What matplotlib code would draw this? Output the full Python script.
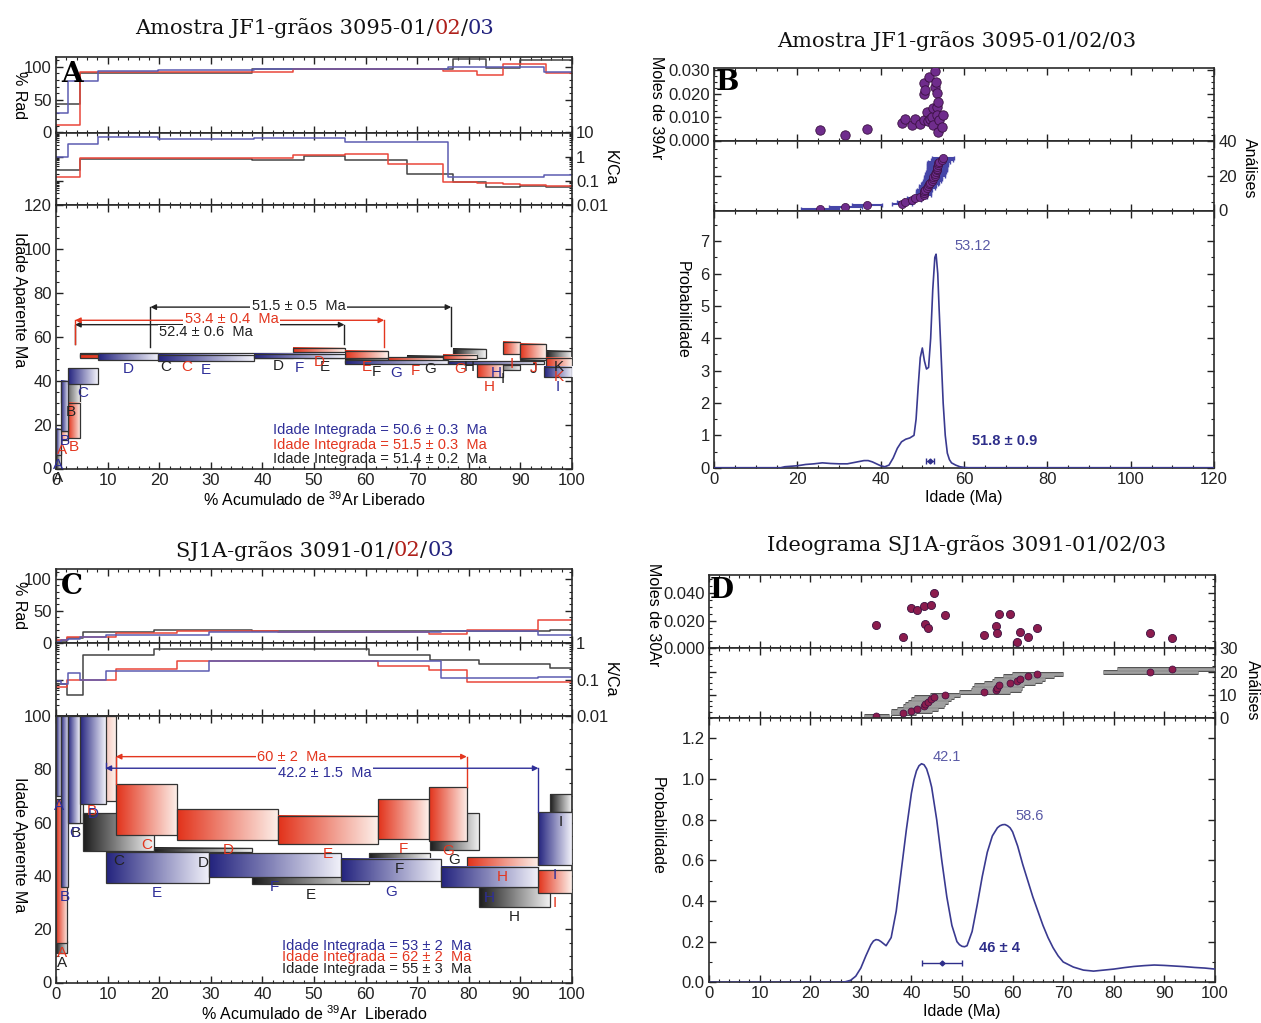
import numpy as np
import matplotlib
matplotlib.use("Agg")
import matplotlib.pyplot as plt
from matplotlib.colors import LinearSegmentedColormap
from matplotlib.patches import Rectangle
from matplotlib.ticker import (MultipleLocator, FixedLocator, FixedFormatter,
                               NullFormatter, LogLocator)

plt.rcParams['font.family'] = ['Liberation Sans', 'DejaVu Sans']
plt.rcParams['mathtext.fontset'] = 'custom'
plt.rcParams['mathtext.rm'] = 'Liberation Sans'
plt.rcParams['axes.linewidth'] = 1.2
plt.rcParams['axes.edgecolor'] = '#2a2a2a'

# ---------------------------------------------------------------------------
# JF1 step heating (grains 01 = blue, 02 = red, 03 = black)
# cumulative % 39Ar boundaries, apparent age (Ma), box half height,
# % radiogenic and K/Ca for every step
# ---------------------------------------------------------------------------
jf1_cum_blue = [0, 0.9, 2.4, 8.1, 19.8, 38.4, 56.0, 76.0, 94.5, 100]
jf1_age_blue = [12, 28.5, 42.2, 51.0, 50.5, 51.2, 48.5, 48.3, 43.8]
jf1_err_blue = [6, 11.5, 3.5, 1.5, 1.4, 1.0, 0.8, 0.6, 2.3]
jf1_rad_blue = [29, 29, 79, 93, 95, 97, 96, 100, 92]
jf1_kca_blue = [0.94, 0.94, 3.2, 6.5, 5.3, 5.9, 3.9, 0.14, 0.17]

jf1_cum_red = [0, 2.3, 4.7, 46.0, 56.0, 64.3, 75.0, 81.5, 86.6, 90.0, 95.0, 100]
jf1_age_red = [15, 22, 51.3, 53.9, 52.0, 49.8, 50.8, 44.5, 54.8, 53.3, 48.3]
jf1_err_red = [2, 8, 0.9, 1.0, 1.6, 0.8, 1.0, 3.0, 2.8, 3.2, 2.2]
jf1_rad_red = [12, 12, 92, 97, 97, 96, 93, 88, 104, 104, 91]
jf1_kca_red = [0.15, 0.15, 0.85, 1.2, 1.25, 0.5, 0.09, 0.08, 0.075, 0.07, 0.06]

jf1_cum_black = [0, 0.9, 4.7, 38.0, 48.0, 56.0, 68.0, 77.0, 83.3, 90.0, 95.0, 100]
jf1_age_black = [4, 34.5, 51.6, 51.8, 51.4, 48.9, 50.4, 52.5, 46.0, 50.5, 52.0]
jf1_err_black = [4, 4.5, 0.8, 0.8, 0.9, 0.7, 0.7, 2.1, 1.0, 1.0, 1.6]
jf1_rad_black = [44, 44, 90, 96, 97, 97, 97, 112, 99, 111, 111]
jf1_kca_black = [0.27, 0.27, 0.8, 0.7, 1.1, 0.7, 0.2, 0.09, 0.054, 0.06, 0.055]

jf1_integrated = ["Idade Integrada = 50.6 ± 0.3  Ma",
                  "Idade Integrada = 51.5 ± 0.3  Ma",
                  "Idade Integrada = 51.4 ± 0.2  Ma"]

# ---------------------------------------------------------------------------
# SJ1A step heating
# ---------------------------------------------------------------------------
sj_cum_blue = [0, 1.0, 2.4, 4.7, 9.6, 29.6, 55.2, 74.6, 93.5, 100]
sj_age_blue = [85, 68, 80, 83.5, 43.2, 44.1, 42.1, 39.5, 54.0]
sj_err_blue = [15, 32, 20, 16.5, 5.8, 4.4, 4.2, 3.8, 9.8]
sj_rad_blue = [2, 4, 6, 9, 12, 17, 17, 19, 12]
sj_kca_blue = [0.089, 0.077, 0.15, 0.1, 0.17, 0.32, 0.32, 0.11, 0.12]

sj_cum_red = [0, 2.2, 11.6, 23.5, 43.1, 62.4, 72.2, 79.6, 93.5, 100]
sj_age_red = [42, 84, 64.9, 59.3, 57.2, 61.25, 63.2, 45.25, 38.0]
sj_err_red = [27, 16, 9.5, 5.8, 5.3, 7.5, 10.0, 1.75, 4.25]
sj_rad_red = [4, 9, 16, 18, 17, 17, 14, 20, 36]
sj_kca_red = [0.063, 0.1, 0.19, 0.32, 0.32, 0.23, 0.18, 0.083, 0.083]

sj_cum_black = [0, 2.2, 5.3, 19.0, 38.0, 60.6, 72.4, 82.0, 95.8, 100]
sj_age_black = [13.2, 80, 56.5, 49.6, 38.4, 47.4, 56.6, 32.1, 67.4]
sj_err_black = [2.2, 20, 7.0, 0.8, 1.6, 1.1, 6.9, 3.6, 3.3]
sj_rad_black = [3, 7, 17, 20, 18, 18, 18, 19, 20]
sj_kca_black = [0.077, 0.038, 0.47, 0.67, 0.67, 0.47, 0.35, 0.26, 0.21]

sj_integrated = ["Idade Integrada = 53 ± 2  Ma",
                 "Idade Integrada = 62 ± 2  Ma",
                 "Idade Integrada = 55 ± 3  Ma"]

# ---------------------------------------------------------------------------
# JF1 single-grain ages (Ma), 39Ar moles and errors ; ideogram
# ---------------------------------------------------------------------------
jf1_grain_age = [25.4, 31.5, 36.7, 45.1, 45.9, 47.6, 48.2, 49.4, 50.3, 50.3,
                 50.3, 50.6, 51.1, 51.3, 51.7, 51.9, 52.3, 52.5, 52.5, 53.0,
                 53.0, 53.2, 53.5, 53.5, 53.5, 53.7, 53.7, 54.0, 54.7, 54.9]
jf1_grain_moles = [0.0043, 0.0022, 0.0048, 0.0075, 0.0090, 0.0065, 0.0090,
                   0.0072, 0.0087, 0.0200, 0.0245, 0.0215, 0.0120, 0.0082,
                   0.0270, 0.0094, 0.0100, 0.0065, 0.0137, 0.0296, 0.0227,
                   0.0250, 0.0205, 0.0145, 0.0110, 0.0166, 0.0036, 0.0087,
                   0.0058, 0.0110]
jf1_grain_err = [4.5, 4.0, 3.5, 2.5, 2.0, 2.0, 2.0, 1.8, 1.8, 1.8,
                 1.8, 1.8, 2.0, 2.0, 2.0, 2.0, 2.2, 2.2, 2.2, 2.4,
                 2.4, 2.4, 2.5, 2.5, 2.5, 2.5, 2.5, 2.6, 2.6, 2.6]
jf1_prob_age = [0, 10, 16, 17, 20, 22, 24, 26, 28, 30, 32, 34, 36, 37, 38, 40,
                41, 42, 43, 44, 45, 46, 47, 48, 48.5, 49, 49.5, 50, 50.5, 51,
                51.5, 52, 52.5, 53, 53.3, 53.7, 54, 54.5, 55, 55.5, 56, 56.5,
                57, 58, 59, 60, 61, 80, 120]
jf1_prob = [0, 0, 0, 0.03, 0.06, 0.10, 0.12, 0.15, 0.13, 0.12, 0.12, 0.17,
            0.22, 0.22, 0.18, 0.06, 0.03, 0.08, 0.30, 0.60, 0.80, 0.88, 0.92,
            1.00, 1.50, 2.50, 3.40, 3.70, 3.30, 3.05, 3.10, 4.00, 5.50, 6.50,
            6.60, 6.00, 5.00, 3.50, 2.00, 1.00, 0.45, 0.25, 0.15, 0.08, 0.03,
            0.01, 0, 0, 0]
jf1_peak = 53.12
jf1_mean, jf1_mean_err = 51.8, 0.9

# ---------------------------------------------------------------------------
# SJ1A single-grain ages, moles and errors ; ideogram
# ---------------------------------------------------------------------------
sj_grain_age = [33.1, 38.4, 40.0, 41.2, 42.4, 42.7, 43.3, 43.9, 44.5, 46.7,
                54.4, 56.7, 56.9, 57.3, 59.4, 60.9, 61.4, 63.1, 64.9, 87.2, 91.6]
sj_grain_moles = [0.0167, 0.0080, 0.0295, 0.0280, 0.0303, 0.0175, 0.0145,
                  0.0310, 0.0400, 0.0238, 0.0097, 0.0162, 0.0110, 0.0245,
                  0.0245, 0.0046, 0.0120, 0.0085, 0.0145, 0.0110, 0.0073]
sj_grain_err = [2.5, 2.5, 4.0, 4.0, 4.0, 4.0, 4.0, 4.0, 4.0, 3.0,
                5.0, 5.0, 5.0, 5.0, 5.0, 5.0, 5.0, 5.0, 5.0, 9.4, 11.0]
sj_prob_age = [0, 26, 27, 28, 29, 30, 31, 32, 32.5, 33, 33.5, 34, 35, 36, 37,
               38, 39, 40, 40.5, 41, 41.5, 42, 42.5, 43, 43.5, 44, 45, 46, 47,
               48, 49, 49.5, 50, 50.5, 51, 52, 53, 54, 55, 56, 57, 57.5, 58,
               58.5, 59, 59.5, 60, 61, 62, 63, 64, 65, 66, 67, 68, 69, 70, 72,
               74, 76, 78, 80, 82, 84, 86, 88, 90, 92, 94, 96, 98, 100]
sj_prob = [0, 0, 0.003, 0.01, 0.03, 0.07, 0.13, 0.185, 0.203, 0.21, 0.208,
           0.20, 0.18, 0.22, 0.35, 0.55, 0.75, 0.93, 0.995, 1.04, 1.065,
           1.075, 1.07, 1.05, 1.01, 0.96, 0.80, 0.60, 0.42, 0.28, 0.20, 0.185,
           0.177, 0.175, 0.18, 0.25, 0.38, 0.52, 0.64, 0.72, 0.76, 0.77, 0.775,
           0.776, 0.77, 0.76, 0.74, 0.67, 0.58, 0.50, 0.42, 0.35, 0.28, 0.22,
           0.17, 0.13, 0.10, 0.075, 0.06, 0.055, 0.06, 0.065, 0.072, 0.078,
           0.082, 0.085, 0.083, 0.080, 0.077, 0.073, 0.070, 0.065]
sj_peaks = [42.1, 58.6]
sj_mean, sj_mean_err = 46, 4

LETTERS = "ABCDEFGHIJKLMN"

# colours
BLUE_DARK, BLUE_LIGHT, BLUE_LINE, BLUE_TXT = '#23237e', '#f2f2fa', '#5c5cb2', '#2e2e98'
RED_DARK, RED_LIGHT, RED_LINE, RED_TXT = '#e2321a', '#fdf0ea', '#e9473a', '#e3361f'
BLK_DARK, BLK_LIGHT, BLK_LINE, BLK_TXT = '#1c1c1c', '#f3f3f3', '#444444', '#222222'
CURVE = '#3a3a90'
TICK_FS = 12
LAB_FS = 11.5
NOTE_FS = 10.5

W, H = 1261, 1023
fig = plt.figure(figsize=(W / 100, H / 100), dpi=100)


def ax_px(left, top, right, bottom):
    return fig.add_axes([left / W, 1 - bottom / H, (right - left) / W, (bottom - top) / H])


def ftxt(x, y, s, **kw):
    return fig.text(x / W, 1 - y / H, s, **kw)


def base_ticks(ax, xmaj, xmin, labelbottom=False):
    ax.xaxis.set_major_locator(MultipleLocator(xmaj))
    ax.xaxis.set_minor_locator(MultipleLocator(xmin))
    ax.tick_params(which='both', direction='in', top=True, bottom=True,
                   left=True, right=True, labelbottom=labelbottom,
                   labelsize=TICK_FS, pad=3, colors='#222222')
    ax.tick_params(which='major', length=5, width=1)
    ax.tick_params(which='minor', length=2.5, width=0.8)


GRAD = np.linspace(0.0, 1.0, 128).reshape(1, -1)


def spectrum(ax, cum, age, err, dark, light, txtcol, z0, lab_off):
    cmap = LinearSegmentedColormap.from_list('grad', [dark, light])
    for i in range(len(age)):
        x0, x1 = cum[i], cum[i + 1]
        lo, hi = age[i] - err[i], age[i] + err[i]
        ax.imshow(GRAD, cmap=cmap, extent=(x0, x1, lo, hi), aspect='auto',
                  origin='lower', interpolation='bilinear', vmin=0, vmax=1,
                  zorder=z0 + i * 0.01)
        ax.add_patch(Rectangle((x0, lo), x1 - x0, hi - lo, fill=False,
                               ec='#333333', lw=0.9, zorder=z0 + i * 0.01 + 0.005))
        ax.text((x0 + x1) / 2, lo - lab_off, LETTERS[i], ha='center', va='top',
                color=txtcol, fontsize=11, zorder=20)


def steps(ax, cum, vals, color):
    ax.plot(cum, list(vals) + [vals[-1]], drawstyle='steps-post', color=color, lw=1.1)


def plateau(ax, x0, x1, y, label, color, tx, ty, drop0, drop1, box=True):
    ax.annotate('', xy=(x0, y), xytext=(x1, y), zorder=15,
                arrowprops=dict(arrowstyle='<|-|>', color=color, lw=1.0,
                                mutation_scale=8, shrinkA=0, shrinkB=0))
    ax.plot([x0, x0], [drop0, y], color=color, lw=1.0, zorder=15)
    ax.plot([x1, x1], [drop1, y], color=color, lw=1.0, zorder=15)
    kw = dict(bbox=dict(fc='white', ec='none', pad=1.0)) if box else {}
    ax.text(tx, ty, label, ha='center', va='center', color=color,
            fontsize=NOTE_FS, zorder=16, **kw)


def kca_axis(ax, lo, hi, ticks, labels):
    ax.set_yscale('log')
    ax.set_ylim(lo, hi)
    ax.yaxis.set_major_locator(FixedLocator(ticks))
    ax.yaxis.set_major_formatter(FixedFormatter(labels))
    ax.yaxis.set_minor_locator(LogLocator(subs=np.arange(2, 10)))
    ax.yaxis.set_minor_formatter(NullFormatter())
    ax.tick_params(axis='y', labelleft=False, labelright=True)


def colored_title(parts, cx, cy, size):
    renderer = fig.canvas.get_renderer()
    objs, widths = [], []
    for s, c in parts:
        t = fig.text(0, 0, s, color=c, fontsize=size, family='DejaVu Serif',
                     va='center', ha='left')
        objs.append(t)
        widths.append(t.get_window_extent(renderer).width)
    x = cx - sum(widths) / 2
    for t, w in zip(objs, widths):
        t.set_position((x / W, 1 - cy / H))
        x += w


def step_panel(top, bottom, left, right, ages_max, kca_hi, kca_ticks, kca_labels,
               blue, red, black, integ, integ_x, integ_y, lab_off, letter, xlabel):
    b_rad, b_kca, b_age = bottom
    rad = ax_px(left, top, right, b_rad)
    kca = ax_px(left, b_rad, right, b_kca)
    age = ax_px(left, b_kca, right, b_age)
    for a in (rad, kca, age):
        a.set_xlim(0, 100)
        base_ticks(a, 10, 2, labelbottom=(a is age))
    # % radiogenic
    for ser, col in ((black, BLK_LINE), (red, RED_LINE), (blue, BLUE_LINE)):
        steps(rad, ser[0], ser[3], col)
    rad.set_ylim(0, 115)
    rad.yaxis.set_major_locator(FixedLocator([0, 50, 100]))
    rad.yaxis.set_minor_locator(MultipleLocator(10))
    # K/Ca
    for ser, col in ((black, BLK_LINE), (red, RED_LINE), (blue, BLUE_LINE)):
        steps(kca, ser[0], ser[4], col)
    kca_axis(kca, 0.01, kca_hi, kca_ticks, kca_labels)
    # age spectra
    for z, ser, cols in ((2, black, (BLK_DARK, BLK_LIGHT, BLK_TXT)),
                         (4, red, (RED_DARK, RED_LIGHT, RED_TXT)),
                         (6, blue, (BLUE_DARK, BLUE_LIGHT, BLUE_TXT))):
        spectrum(age, ser[0], ser[1], ser[2], cols[0], cols[1], cols[2], z, lab_off)
    age.set_xlim(0, 100)
    age.set_ylim(0, ages_max)
    age.yaxis.set_major_locator(MultipleLocator(20))
    age.yaxis.set_minor_locator(MultipleLocator(5))
    for s, col, yy in zip(integ, (BLUE_TXT, RED_TXT, BLK_TXT), integ_y):
        age.text(integ_x, yy, s, ha='right', va='center', color=col,
                 fontsize=NOTE_FS, zorder=20)
    age.set_xlabel(xlabel, fontsize=LAB_FS, labelpad=2)
    ftxt(left + 16, top + 18, letter, fontsize=20, fontweight='bold',
         family='DejaVu Serif', ha='center', va='center', zorder=30)
    return rad, kca, age


# ----------------------------- panel A ---------------------------------
radA, kcaA, ageA = step_panel(
    57, (132.5, 205, 468.5), 56, 572, 120, 10, [0.01, 0.1, 1, 10],
    ['0.01', '0.1', '1', '10'],
    (jf1_cum_blue, jf1_age_blue, jf1_err_blue, jf1_rad_blue, jf1_kca_blue),
    (jf1_cum_red, jf1_age_red, jf1_err_red, jf1_rad_red, jf1_kca_red),
    (jf1_cum_black, jf1_age_black, jf1_err_black, jf1_rad_black, jf1_kca_black),
    jf1_integrated, 83.5, (17.5, 10.8, 4.2), 1.2, 'A',
    r'% Acumulado de $^{39}$Ar Liberado')
plateau(ageA, 18.3, 76.6, 73.5, '51.5 ± 0.5  Ma', BLK_TXT, 47, 74, 55.5, 56)
plateau(ageA, 3.7, 55.9, 65.5, '', BLK_TXT, 30, 65.5, 56.5, 56.5, box=False)
plateau(ageA, 3.7, 63.6, 67.5, '53.4 ± 0.4  Ma', RED_TXT, 34, 68.3, 56.5, 55.5)
ageA.text(29, 62.0, '52.4 ± 0.6  Ma', ha='center', va='center', color=BLK_TXT,
          fontsize=NOTE_FS, zorder=16, bbox=dict(fc='white', ec='none', pad=0.5))

# ----------------------------- panel C ---------------------------------
radC, kcaC, ageC = step_panel(
    569, (643, 716, 982.5), 56, 572, 100, 1, [0.01, 0.1, 1],
    ['0.01', '0.1', '1'],
    (sj_cum_blue, sj_age_blue, sj_err_blue, sj_rad_blue, sj_kca_blue),
    (sj_cum_red, sj_age_red, sj_err_red, sj_rad_red, sj_kca_red),
    (sj_cum_black, sj_age_black, sj_err_black, sj_rad_black, sj_kca_black),
    sj_integrated, 80.5, (13.8, 9.4, 5.0), 1.2, 'C',
    r'% Acumulado de $^{39}$Ar  Liberado')
plateau(ageC, 11.6, 79.6, 84.75, '60 ± 2  Ma', RED_TXT, 45.7, 84.75, 74.4, 73.2)
plateau(ageC, 9.6, 93.5, 80.4, '42.2 ± 1.5  Ma', BLUE_TXT, 52, 78.6, 82.5, 63.8)

# left / right labels of the step-heating panels
for y_rad, y_kca, y_age in ((95, 168, 300), (605, 680, 845)):
    ftxt(19, y_rad, '% Rad', rotation=270, fontsize=LAB_FS, ha='center', va='center')
    ftxt(19, y_age, 'Idade Aparente Ma', rotation=270, fontsize=LAB_FS, ha='center', va='center')
    ftxt(610, y_kca, 'K/Ca', rotation=270, fontsize=LAB_FS, ha='center', va='center')


# ----------------------------- ideograms -------------------------------
def ideogram(left, right, tops, xmax, xmaj, xmin, gage, gmol, gerr, mol_hi,
             mol_maj, mol_labels, an_max, an_maj, pa, pv, p_hi, p_maj,
             mcol, ecols, ews, caps, msize, letter):
    t0, t1, t2, t3 = tops
    mol = ax_px(left, t0, right, t1)
    ana = ax_px(left, t1, right, t2)
    pro = ax_px(left, t2, right, t3)
    for a in (mol, ana, pro):
        a.set_xlim(0, xmax)
        base_ticks(a, xmaj, xmin, labelbottom=(a is pro))
    mol.scatter(gage, gmol, s=msize, color=mcol, edgecolor='#3a1040', lw=0.6, zorder=5)
    mol.set_ylim(0, mol_hi)
    mol.yaxis.set_major_locator(FixedLocator(mol_maj))
    mol.yaxis.set_major_formatter(FixedFormatter(mol_labels))
    mol.yaxis.set_minor_locator(MultipleLocator(mol_maj[1] / 4))
    order = np.argsort(gage, kind='stable')
    ranks = np.arange(1, len(gage) + 1)
    sa = np.asarray(gage)[order]
    se = np.asarray(gerr)[order]
    for k, (ec, ew) in enumerate(zip(ecols, ews)):
        ana.errorbar(sa, ranks, xerr=se, fmt='none', ecolor=ec, elinewidth=ew,
                     capsize=caps, capthick=1.0, zorder=3 + k * 0.1)
    ana.scatter(sa, ranks, s=msize * 0.75, color=mcol, edgecolor='#3a1040', lw=0.5, zorder=5)
    ana.set_ylim(0, an_max)
    ana.yaxis.set_major_locator(MultipleLocator(an_maj))
    ana.yaxis.set_minor_locator(MultipleLocator(an_maj / 4))
    ana.tick_params(axis='y', labelleft=False, labelright=True)
    pro.plot(pa, pv, color=CURVE, lw=1.2, zorder=5)
    pro.set_ylim(0, p_hi)
    pro.yaxis.set_major_locator(MultipleLocator(p_maj))
    pro.yaxis.set_minor_locator(MultipleLocator(p_maj / 2))
    pro.set_xlabel('Idade (Ma)', fontsize=LAB_FS, labelpad=2)
    ftxt(left + 13, t0 + 15, letter, fontsize=20, fontweight='bold',
         family='DejaVu Serif', ha='center', va='center', zorder=30)
    return mol, ana, pro


molB, anaB, proB = ideogram(714, 1214, (68, 140.5, 210.5, 467.7), 120, 20, 5,
                            jf1_grain_age, jf1_grain_moles, jf1_grain_err, 0.031,
                            [0, 0.01, 0.02, 0.03], ['0.000', '0.010', '0.020', '0.030'],
                            40, 20, jf1_prob_age, jf1_prob, 7.95, 1,
                            '#6f2c8c', ['#4646a8'], [1.5], 1.5, 46, 'B')
proB.text(jf1_peak + 4.5, 6.85, f'{jf1_peak:.2f}', color='#5a5aa6', fontsize=NOTE_FS,
          ha='left', va='center')
proB.errorbar([jf1_mean], [0.22], xerr=[jf1_mean_err], fmt='D', ms=2.5, color='#2e2e8a',
              elinewidth=1.0, capsize=2.5, capthick=1.0, zorder=6)
proB.text(62, 0.82, f'{jf1_mean} ± {jf1_mean_err}', color='#2e2e8a', fontsize=NOTE_FS,
          fontweight='bold', ha='left', va='center')

molD, anaD, proD = ideogram(709, 1215, (575, 648.3, 718, 982.3), 100, 10, 2,
                            sj_grain_age, sj_grain_moles, sj_grain_err, 0.053,
                            [0, 0.02, 0.04], ['0.000', '0.020', '0.040'],
                            30, 10, sj_prob_age, sj_prob, 1.3, 0.2,
                            '#8c1c4e', ['#3a3a3a', '#a0a0a0'], [3.4, 2.0], 0, 34, 'D')
for pk, py in zip(sj_peaks, (1.11, 0.82)):
    proD.text(pk + 2.0, py, f'{pk}', color='#5a5aa6', fontsize=NOTE_FS, ha='left', va='center')
proD.errorbar([sj_mean], [0.095], xerr=[sj_mean_err], fmt='D', ms=2.5, color='#2e2e8a',
              elinewidth=1.0, capsize=2.5, capthick=1.0, zorder=6)
proD.text(53.3, 0.168, f'{sj_mean} ± {sj_mean_err}', color='#2e2e8a', fontsize=NOTE_FS,
          fontweight='bold', ha='left', va='center')

ftxt(656, 108, 'Moles de 39Ar', rotation=270, fontsize=LAB_FS, ha='center', va='center')
ftxt(1249, 168, 'Análises', rotation=270, fontsize=LAB_FS, ha='center', va='center')
ftxt(682, 310, 'Probabilidade', rotation=270, fontsize=LAB_FS, ha='center', va='center')
ftxt(653, 615, 'Moles de 30Ar', rotation=270, fontsize=LAB_FS, ha='center', va='center')
ftxt(1252, 690, 'Análises', rotation=270, fontsize=LAB_FS, ha='center', va='center')
ftxt(657, 826, 'Probabilidade', rotation=270, fontsize=LAB_FS, ha='center', va='center')

# ----------------------------- titles ----------------------------------
colored_title([('Amostra JF1-grãos 3095-01/', '#111111'), ('02', '#b0201a'),
               ('/', '#111111'), ('03', '#23237e')], 315, 28, 15)
colored_title([('SJ1A-grãos 3091-01/', '#111111'), ('02', '#b0201a'),
               ('/', '#111111'), ('03', '#23237e')], 315, 551, 15)
colored_title([('Amostra JF1-grãos 3095-01/02/03', '#111111')], 957, 41, 15)
colored_title([('Ideograma SJ1A-grãos 3091-01/02/03', '#111111')], 967, 545, 15)

fig.savefig('out.png', dpi=100)
